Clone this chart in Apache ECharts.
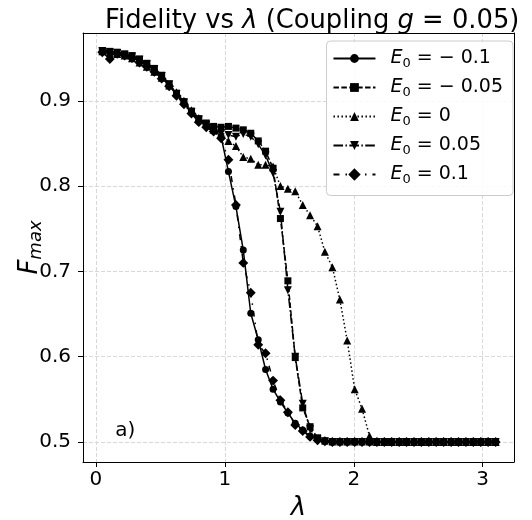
<!DOCTYPE html>
<html>
<head>
<meta charset="utf-8">
<script src="https://cdn.jsdelivr.net/npm/echarts@6/dist/echarts.min.js"></script>
<style>html,body{margin:0;padding:0;background:#fff;}#c{width:532px;height:520px;}</style>
</head>
<body>
<div id="c"></div>
<script>
// ---- data ----
const lambdas = [0.050,0.108,0.165,0.223,0.280,0.338,0.395,0.453,0.510,0.568,
  0.625,0.683,0.741,0.798,0.856,0.913,0.971,1.028,1.086,1.143,
  1.201,1.259,1.316,1.374,1.431,1.489,1.546,1.604,1.661,1.719,
  1.776,1.834,1.892,1.949,2.007,2.064,2.122,2.179,2.237,2.294,
  2.352,2.409,2.467,2.524,2.582,2.639,2.697,2.755,2.812,2.870,
  2.927,2.985,3.042,3.100];

const F_Em010 = [0.958,0.957,0.955,0.954,0.951,0.946,0.942,0.936,0.928,0.918,
  0.907,0.897,0.886,0.876,0.871,0.866,0.858,0.817,0.776,0.725,
  0.651,0.620,0.585,0.562,0.547,0.534,0.522,0.514,0.507,0.503,
  0.501,0.500,0.500,0.500,0.500,0.500,0.500,0.500,0.500,0.500,
  0.500,0.500,0.500,0.500,0.500,0.500,0.500,0.500,0.500,0.500,
  0.500,0.500,0.500,0.500];

const F_Em005 = [0.959,0.958,0.957,0.955,0.953,0.949,0.944,0.938,0.930,0.920,
  0.909,0.899,0.888,0.879,0.874,0.870,0.869,0.870,0.868,0.866,
  0.862,0.853,0.841,0.821,0.762,0.689,0.599,0.540,0.518,0.505,
  0.501,0.500,0.500,0.500,0.500,0.500,0.500,0.500,0.500,0.500,
  0.500,0.500,0.500,0.500,0.500,0.500,0.500,0.500,0.500,0.500,
  0.500,0.500,0.500,0.500];

const F_E000 = [0.958,0.956,0.955,0.953,0.950,0.945,0.940,0.934,0.927,0.918,
  0.910,0.900,0.889,0.880,0.873,0.866,0.860,0.853,0.847,0.834,
  0.832,0.825,0.825,0.823,0.800,0.797,0.794,0.778,0.766,0.753,
  0.723,0.705,0.667,0.619,0.562,0.539,0.507,0.500,0.500,0.500,
  0.500,0.500,0.500,0.500,0.500,0.500,0.500,0.500,0.500,0.500,
  0.500,0.500,0.500,0.500];

const F_Ep005 = [0.958,0.957,0.956,0.954,0.952,0.948,0.943,0.937,0.929,0.919,
  0.908,0.898,0.887,0.878,0.872,0.867,0.862,0.860,0.858,0.861,
  0.858,0.849,0.836,0.815,0.770,0.678,0.600,0.545,0.515,0.503,
  0.501,0.500,0.500,0.500,0.500,0.500,0.500,0.500,0.500,0.500,
  0.500,0.500,0.500,0.500,0.500,0.500,0.500,0.500,0.500,0.500,
  0.500,0.500,0.500,0.500];

const F_Ep010 = [0.957,0.949,0.955,0.953,0.950,0.945,0.940,0.934,0.926,0.917,
  0.906,0.896,0.885,0.875,0.869,0.864,0.856,0.831,0.778,0.710,
  0.675,0.614,0.604,0.572,0.549,0.535,0.520,0.513,0.506,0.502,
  0.501,0.500,0.500,0.500,0.500,0.500,0.500,0.500,0.500,0.500,
  0.500,0.500,0.500,0.500,0.500,0.500,0.500,0.500,0.500,0.500,
  0.500,0.500,0.500,0.500];

const seriesNames = ['E0=-0.1','E0=-0.05','E0=0','E0=0.05','E0=0.1'];
const legendValues = ['\u2212 0.1','\u2212 0.05','0','0.05','0.1'];
const seriesValues = [F_Em010, F_Em005, F_E000, F_Ep005, F_Ep010];

const xRange = [-0.1, 3.2425];
const yRange = [0.4766, 0.9795];
const annotation = {text: 'a)', lambda: 0.15, F: 0.5015};

// ---- styles ----
const FONT = 'DejaVu Sans';
const styles = [
  {symbol: 'circle', size: 7, rotate: 0, dash: 'solid'},
  {symbol: 'rect', size: 7, rotate: 0, dash: [5.5, 2.4]},
  {symbol: 'triangle', size: 8, rotate: 0, dash: [1.5, 2.5]},
  {symbol: 'triangle', size: 8, rotate: 180, dash: [9.6, 2.4, 1.5, 2.4]},
  {symbol: 'rect', size: 7, rotate: 45, dash: [6, 6, 1.5, 6]}
];

const chart = echarts.init(document.getElementById('c'), null, {renderer: 'canvas'});

const series = seriesNames.map((name, si) => ({
  name: name,
  type: 'line',
  xAxisIndex: 0,
  yAxisIndex: 0,
  data: lambdas.map((x, i) => [x, seriesValues[si][i]]),
  symbol: styles[si].symbol,
  symbolSize: styles[si].size,
  symbolRotate: styles[si].rotate,
  showAllSymbol: true,
  lineStyle: {color: '#000', width: 1.5, type: styles[si].dash},
  itemStyle: {color: '#000', borderWidth: 0},
  z: 2 + si,
  animation: false
}));

const legendMap = {};
seriesNames.forEach((n, i) => legendMap[n] = legendValues[i]);

const option = {
  animation: false,
  backgroundColor: '#ffffff',
  title: {
    text: 'Fidelity vs {i|\u03bb} (Coupling {i|g} = 0.05)',
    left: 100, top: 3,
    textStyle: {
      fontFamily: FONT, fontSize: 25.8, fontWeight: 'normal', color: '#000',
      rich: {i: {fontFamily: FONT, fontSize: 25.8, fontStyle: 'italic', color: '#000'}}
    }
  },
  grid: {left: 83, right: 18, top: 33, bottom: 58, containLabel: false, outerBoundsMode: 'none'},
  xAxis: [{
    type: 'value', min: xRange[0], max: xRange[1], minInterval: 1, maxInterval: 1,
    name: '{l|\u03bb}', nameLocation: 'middle', nameGap: 30,
    nameTextStyle: {rich: {l: {fontFamily: FONT, fontSize: 26, fontStyle: 'italic', color: '#000'}}},
    axisLine: {show: true, onZero: false, lineStyle: {color: '#000', width: 1}},
    axisTick: {show: true, inside: false, length: 5, lineStyle: {color: '#000'}},
    axisLabel: {show: true, showMinLabel: false, showMaxLabel: false, margin: 8,
      fontFamily: FONT, fontSize: 20, color: '#000', formatter: v => String(Math.round(v))},
    splitLine: {show: true, lineStyle: {color: '#d9d9d9', type: [4, 2], width: 1}}
  }, {
    type: 'value', position: 'top', min: xRange[0], max: xRange[1],
    axisLine: {show: true, onZero: false, lineStyle: {color: '#000', width: 1}},
    axisTick: {show: false}, axisLabel: {show: false}, splitLine: {show: false}
  }],
  yAxis: [{
    type: 'value', min: yRange[0], max: yRange[1], minInterval: 0.1, maxInterval: 0.1,
    name: '{f|F}{s|max}', nameLocation: 'middle', nameGap: 38, nameRotate: 90, nameMoveOverlap: false,
    nameTextStyle: {rich: {
      f: {fontFamily: FONT, fontSize: 26, fontStyle: 'italic', color: '#000', lineHeight: 30, verticalAlign: 'middle'},
      s: {fontFamily: FONT, fontSize: 18, fontStyle: 'italic', color: '#000', lineHeight: 20, verticalAlign: 'bottom'}
    }},
    axisLine: {show: true, onZero: false, lineStyle: {color: '#000', width: 1}},
    axisTick: {show: true, inside: false, length: 5, lineStyle: {color: '#000'}},
    axisLabel: {show: true, showMinLabel: false, showMaxLabel: false, margin: 12,
      fontFamily: FONT, fontSize: 20, color: '#000', formatter: v => v.toFixed(1)},
    splitLine: {show: true, lineStyle: {color: '#d9d9d9', type: [4, 2], width: 1}}
  }, {
    type: 'value', position: 'right', min: yRange[0], max: yRange[1],
    axisLine: {show: true, onZero: false, lineStyle: {color: '#000', width: 1}},
    axisTick: {show: false}, axisLabel: {show: false}, splitLine: {show: false}
  }],
  legend: {
    orient: 'vertical', right: 19, top: 41,
    padding: [8, 10, 9, 6], itemGap: 7.5, itemWidth: 42, itemHeight: 11,
    backgroundColor: 'rgba(255,255,255,0.85)', borderColor: '#cccccc', borderWidth: 1, borderRadius: 4,
    data: seriesNames,
    formatter: name => '{e|E}{s|0}{t| = ' + legendMap[name] + '}',
    textStyle: {color: '#000', fontFamily: FONT, fontSize: 19, rich: {
      e: {fontFamily: FONT, fontSize: 19, fontStyle: 'italic', color: '#000', lineHeight: 24, verticalAlign: 'middle', padding: [0, 0, 0, 10]},
      s: {fontFamily: FONT, fontSize: 13, color: '#000', lineHeight: 14, verticalAlign: 'bottom'},
      t: {fontFamily: FONT, fontSize: 19, color: '#000', lineHeight: 24, verticalAlign: 'middle'}
    }}
  },
  series: series
};

chart.setOption(option);

const p = chart.convertToPixel({xAxisIndex: 0, yAxisIndex: 0}, [annotation.lambda, annotation.F]);
chart.setOption({
  graphic: [{
    type: 'text', x: p[0], y: p[1], z: 10,
    style: {text: annotation.text, fontFamily: FONT, fontSize: 20, fill: '#000', align: 'left', verticalAlign: 'bottom'}
  }]
});
</script>
</body>
</html>
